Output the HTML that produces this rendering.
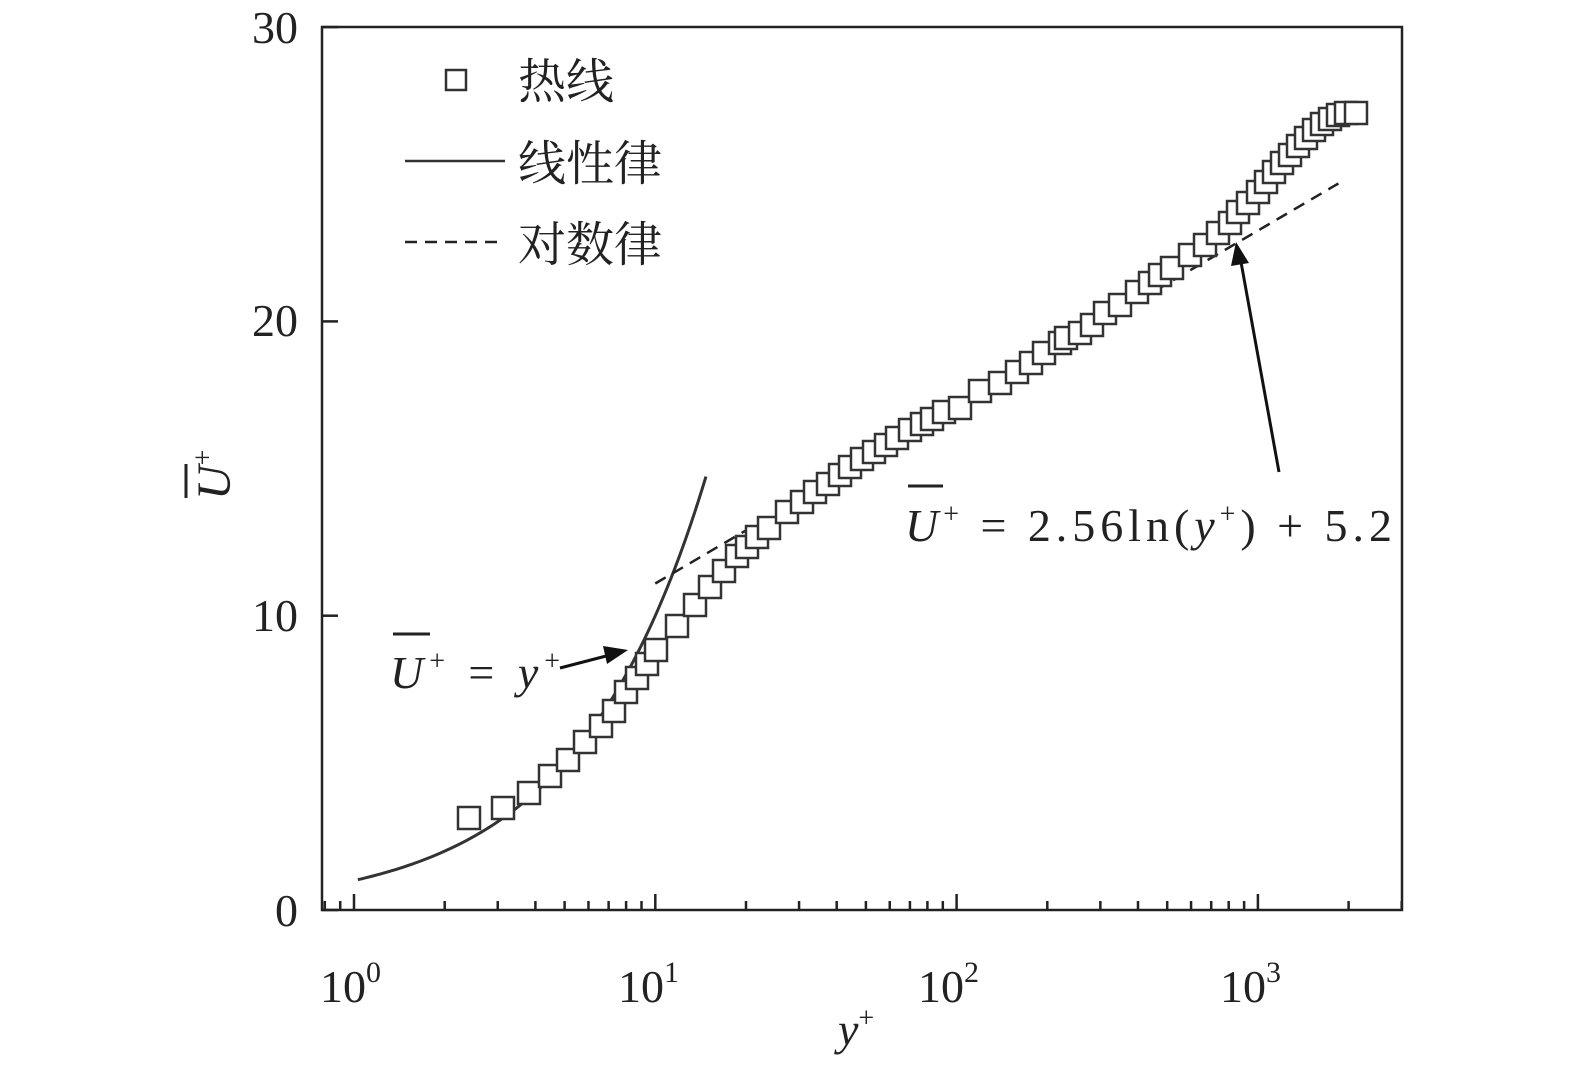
<!DOCTYPE html>
<html><head><meta charset="utf-8"><style>
html,body{margin:0;padding:0;background:#fff;}
svg text{font-family:"Liberation Serif","Noto Serif CJK SC",serif;fill:#222;}
</style></head><body>
<svg id="s" width="1575" height="1063" viewBox="0 0 1575 1063" xmlns="http://www.w3.org/2000/svg">
<rect x="322" y="27" width="1080" height="883" fill="none" stroke="#222" stroke-width="2.5"/>
<g id="ticks" stroke="#222" stroke-width="2.5"></g>
<g font-size="46">
<text x="320" y="1002">10<tspan font-size="30" dy="-20">0</tspan></text>
<text x="618" y="1002">10<tspan font-size="30" dy="-20">1</tspan></text>
<text x="918" y="1002">10<tspan font-size="30" dy="-20">2</tspan></text>
<text x="1220" y="1002">10<tspan font-size="30" dy="-20">3</tspan></text>
<text x="298" y="926" text-anchor="end">0</text>
<text x="298" y="631" text-anchor="end">10</text>
<text x="298" y="336" text-anchor="end">20</text>
<text x="298" y="43" text-anchor="end">30</text>
</g>
<text x="838" y="1045" font-size="46" font-style="italic">y<tspan font-size="28" font-style="normal" dy="-18">+</tspan></text>
<g transform="translate(230,500) rotate(-90)">
<text x="0" y="0" font-size="48" font-style="italic">U<tspan font-size="28" font-style="normal" dy="-18">+</tspan></text>
<line x1="2" y1="-44" x2="36" y2="-44" stroke="#222" stroke-width="3"/>
</g>
<path id="lin" fill="none" stroke="#333" stroke-width="3"/>
<path id="log" fill="none" stroke="#222" stroke-width="2.5" stroke-dasharray="12,8"/>
<g id="pts" fill="#fff" stroke="#333" stroke-width="2.5"></g>
<!-- legend -->
<rect x="446" y="70" width="20" height="20" fill="#fff" stroke="#333" stroke-width="2.5"/>
<text x="518" y="98" font-size="48">热线</text>
<line x1="405" y1="161" x2="505" y2="161" stroke="#333" stroke-width="2.5"/>
<text x="518" y="180" font-size="48">线性律</text>
<line x1="405" y1="242" x2="505" y2="242" stroke="#222" stroke-width="2.5" stroke-dasharray="12,8"/>
<text x="518" y="261" font-size="48">对数律</text>
<!-- annotations -->
<text x="390" y="688" font-size="46" textLength="170" lengthAdjust="spacing"><tspan font-style="italic">U</tspan><tspan font-size="28" dy="-18">+</tspan><tspan dy="18"> = </tspan><tspan font-style="italic">y</tspan><tspan font-size="28" dy="-18">+</tspan></text>
<line x1="393" y1="634" x2="430" y2="634" stroke="#222" stroke-width="3"/>
<line x1="560" y1="668" x2="610" y2="655" stroke="#111" stroke-width="3"/>
<polygon points="628,650 603,646 607,664" fill="#111"/>
<text x="905" y="541" font-size="46" textLength="487" lengthAdjust="spacing"><tspan font-style="italic">U</tspan><tspan font-size="28" dy="-18">+</tspan><tspan dy="18"> = 2.56ln(</tspan><tspan font-style="italic">y</tspan><tspan font-size="28" dy="-18">+</tspan><tspan dy="18">) + 5.2</tspan></text>
<line x1="908" y1="486" x2="943" y2="486" stroke="#222" stroke-width="3"/>
<line x1="1279" y1="472" x2="1241" y2="262" stroke="#111" stroke-width="3"/>
<polygon points="1236,242 1231,266 1249,263" fill="#111"/>
</svg>
<script>
var X=function(v){return 354+301.3*Math.log10(v)},Y=function(u){return 910-29.43*u};
var t='';
for(var d=-1;d<4;d++)for(var k=1;k<10;k++){var v=k*Math.pow(10,d);var x=X(v);if(x<322||x>1402)continue;var L=k==1?16:9;t+='<line x1="'+x+'" y1="910" x2="'+x+'" y2="'+(910-L)+'"/>';}
for(var u=0;u<=30;u+=10){t+='<line x1="322" y1="'+Y(u)+'" x2="338" y2="'+Y(u)+'"/>';}
document.getElementById('ticks').innerHTML=t;
var p='';for(var v=1.03;v<=15;v*=1.03)p+=(p?'L':'M')+X(v)+','+Y(v)+' ';
document.getElementById('lin').setAttribute('d',p);
p='';for(var v=10;v<=1900;v*=1.05)p+=(p?'L':'M')+X(v)+','+Y(2.56*Math.log(v)+5.2+0.1*Math.log10(v/10))+' ';
document.getElementById('log').setAttribute('d',p);
var pts=[[469,818],[503,808],[529,793],[550,776],[568,760],[585,742],[601,726],[614,711],[626,692],[637,678],[647,664],[656,650],[677,626],[695,605],[710,587],[724,571],[737,556],[747,547],[757,537],[769,528],[787,512],[802,502],[815,492],[828,484],[840,475],[850,467],[862,459],[874,452],[886,445],[897,438],[910,430],[922,424],[932,419],[944,412],[960,408],[980,391],[1000,383],[1017,372],[1031,363],[1044,353],[1060,343],[1066,338],[1080,333],[1092,325],[1105,313],[1120,305],[1137,292],[1150,283],[1160,275],[1172,268],[1190,255],[1205,245],[1218,233],[1230,223],[1238,212],[1248,203],[1258,192],[1266,182],[1274,172],[1282,163],[1290,155],[1298,146],[1306,138],[1314,130],[1322,124],[1330,119],[1338,115],[1346,113],[1356,113]];
var s='';pts.forEach(function(q){s+='<rect x="'+(q[0]-11)+'" y="'+(q[1]-11)+'" width="22" height="22"/>';});
document.getElementById('pts').innerHTML=s;
</script>
</body></html>
